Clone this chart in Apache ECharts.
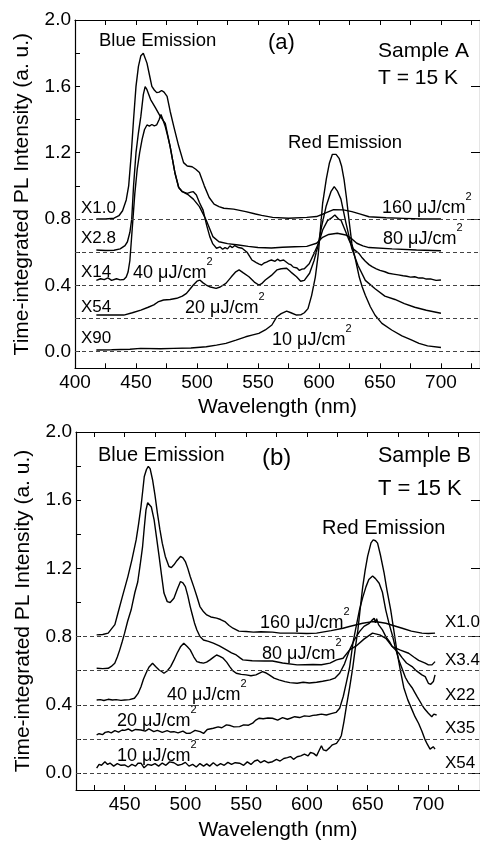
<!DOCTYPE html>
<html>
<head>
<meta charset="utf-8">
<script src="https://cdn.jsdelivr.net/npm/echarts@6/dist/echarts.min.js"></script>
<style>
html,body{margin:0;padding:0;background:#fff;overflow:hidden;}
#chart{width:480px;height:843px;}
</style>
</head>
<body>
<div id="chart"></div>
<script>
// ---------- Panel (a): Sample A, [wavelength nm, intensity] ----------
const a160 = [[417.5,0.80],[425,0.80],[432,0.805],[436,0.82],[439,0.85],[442,0.915],[444,1.0],[446,1.18],[448,1.40],[450,1.6],[452,1.72],[454,1.785],[456,1.80],[457.5,1.79],[459,1.74],[461,1.67],[463,1.60],[465,1.578],[467,1.562],[469,1.565],[471,1.575],[473,1.565],[475.5,1.54],[478,1.45],[481,1.357],[485,1.24],[489,1.14],[492,1.12],[496,1.115],[499,1.10],[502,1.08],[506,1.0],[510,0.93],[514,0.89],[518,0.875],[522,0.865],[530,0.86],[540,0.845],[548,0.83],[553,0.822],[562,0.81],[575,0.805],[590,0.81],[598,0.815],[605,0.835],[612,0.857],[620,0.855],[627,0.845],[634,0.83],[641,0.814],[655,0.808],[670,0.804],[685,0.80],[700,0.80]];
const a80 = [[417.5,0.613],[425,0.61],[432,0.612],[437,0.62],[441,0.64],[443,0.663],[445,0.72],[446.5,0.80],[448,1.0],[450,1.2],[452,1.32],[454,1.42],[456,1.55],[457.5,1.598],[459,1.58],[462,1.52],[466,1.47],[470,1.417],[474,1.377],[478,1.236],[482,1.076],[485,0.99],[488,0.965],[493,0.945],[497,0.92],[502,0.875],[507.5,0.794],[513,0.694],[518,0.663],[525,0.652],[534,0.643],[542,0.635],[550,0.628],[561,0.625],[570,0.63],[580,0.633],[590,0.635],[598,0.654],[603,0.69],[608,0.707],[615,0.714],[622,0.704],[627,0.68],[631,0.654],[636,0.638],[641,0.628],[660,0.62],[680,0.613],[700,0.609]];
const a40 = [[417.5,0.43],[421,0.44],[424,0.435],[427,0.445],[430,0.43],[434,0.44],[437,0.433],[440,0.435],[442,0.45],[443.5,0.48],[445,0.55],[447,0.75],[449,0.95],[451,1.1],[453,1.2],[455,1.28],[457,1.34],[459,1.367],[461,1.36],[463,1.37],[465,1.362],[467,1.368],[469,1.40],[470.5,1.43],[472,1.40],[474,1.357],[476,1.30],[478,1.236],[482,1.076],[485,0.99],[488,0.965],[492,0.955],[495,0.962],[497,0.965],[499.5,0.945],[502,0.90],[505,0.854],[508,0.76],[510.5,0.694],[513,0.65],[516,0.624],[519,0.632],[521,0.618],[523,0.628],[525,0.62],[527,0.638],[529,0.628],[531,0.64],[534,0.628],[537,0.624],[541,0.60],[545,0.553],[547,0.545],[549,0.535],[551,0.528],[553,0.523],[555,0.535],[557,0.54],[559,0.548],[561,0.553],[564,0.545],[566,0.558],[568,0.548],[571,0.553],[575,0.53],[577,0.525],[579,0.51],[582,0.505],[584,0.49],[586,0.498],[588,0.50],[592,0.53],[596,0.593],[600,0.66],[603,0.734],[607,0.79],[610,0.805],[613,0.824],[616,0.80],[618,0.794],[621,0.74],[624.6,0.674],[628,0.62],[632.7,0.593],[635,0.57],[638,0.545],[641,0.525],[643.5,0.513],[647,0.5],[650,0.49],[654,0.482],[657,0.473],[661,0.468],[665,0.463],[669,0.458],[672,0.455],[675,0.45],[678.5,0.452],[682,0.444],[685,0.445],[688,0.438],[692,0.438],[696,0.43],[700,0.432]];
const a20 = [[417.5,0.221],[430,0.222],[440,0.221],[447,0.235],[454,0.251],[460,0.268],[464.6,0.282],[468,0.30],[472.6,0.312],[478,0.315],[483.4,0.322],[488,0.335],[491.4,0.352],[494,0.375],[497,0.402],[500,0.425],[502.3,0.432],[505,0.415],[507.6,0.402],[511,0.39],[515.7,0.382],[519,0.39],[523.7,0.412],[528,0.45],[531.8,0.482],[534.5,0.493],[538,0.475],[542.6,0.452],[547,0.42],[550.7,0.402],[553,0.41],[556,0.432],[561,0.46],[565.5,0.493],[569,0.50],[573.5,0.503],[577,0.48],[581.6,0.452],[585,0.425],[588,0.43],[592.3,0.473],[596,0.55],[599,0.633],[602,0.75],[605.8,0.875],[609.8,0.965],[612.5,0.995],[615,0.97],[618,0.92],[622,0.78],[627,0.62],[632,0.52],[638,0.43],[646,0.38],[654,0.335],[662.3,0.315],[670,0.29],[678.5,0.268],[688,0.25],[700,0.232]];
const a10 = [[417.5,0.01],[430,0.012],[445,0.015],[453.8,0.02],[470,0.018],[480.7,0.02],[495,0.022],[507.6,0.03],[516,0.04],[523.7,0.05],[532,0.07],[539.9,0.09],[545,0.1],[550.7,0.111],[556,0.131],[561.4,0.161],[565.5,0.211],[569,0.23],[573.5,0.245],[577,0.235],[581.6,0.221],[585,0.222],[588,0.235],[591,0.26],[594,0.34],[597,0.45],[599.5,0.593],[603,0.895],[606,1.04],[608.5,1.136],[611,1.19],[612.5,1.197],[614,1.19],[616.5,1.166],[618.5,1.12],[620.6,1.036],[622.5,0.93],[624.6,0.794],[627,0.65],[630,0.553],[633,0.45],[635.4,0.392],[638,0.34],[642.1,0.271],[646,0.22],[651.6,0.171],[659.6,0.131],[668,0.095],[675.7,0.071],[682,0.05],[689,0.035],[700,0.025]];

// ---------- Panel (b): Sample B ----------
const b160 = [[427,0.81],[432,0.812],[436.5,0.82],[439.2,0.845],[442,0.87],[444.6,0.94],[448,1.03],[452.7,1.152],[456,1.25],[459.5,1.367],[461.5,1.46],[463.5,1.563],[465,1.66],[466.2,1.739],[468,1.78],[469.5,1.798],[471,1.785],[473,1.72],[475,1.63],[477,1.524],[479,1.43],[481,1.348],[483.5,1.27],[486.5,1.211],[488.5,1.205],[490.6,1.221],[493,1.245],[496,1.27],[498,1.262],[500,1.24],[502,1.2],[504,1.152],[507,1.09],[509.5,1.035],[512,0.976],[515,0.945],[517.6,0.927],[521,0.915],[525.7,0.908],[529,0.9],[532.5,0.888],[536,0.865],[539.2,0.849],[544,0.832],[550,0.83],[556,0.826],[562,0.828],[571.7,0.826],[578,0.82],[590,0.82],[600,0.818],[608,0.82],[620,0.835],[629.8,0.849],[635,0.859],[640,0.868],[646,0.878],[654,0.888],[660,0.884],[665,0.878],[671,0.865],[678.5,0.849],[686,0.832],[694.7,0.82],[700,0.818],[705.5,0.82]];
const b80 = [[427,0.614],[432,0.612],[436.5,0.614],[439,0.625],[441.9,0.644],[444,0.68],[446,0.722],[448,0.77],[450,0.82],[452.5,0.89],[455.4,0.957],[456.7,1.0],[458.5,1.06],[460.8,1.12],[462.8,1.22],[464.8,1.328],[466.2,1.44],[467.6,1.543],[469,1.585],[470.3,1.592],[472,1.56],[474.3,1.485],[476.3,1.38],[478.4,1.27],[480.4,1.16],[482.4,1.055],[485.1,1.005],[487.5,1.0],[490.6,1.025],[493.5,1.08],[496,1.123],[498,1.115],[500,1.093],[502,1.04],[504,0.976],[505.4,0.937],[507.5,0.88],[509.5,0.839],[512,0.8],[514.9,0.78],[519,0.772],[523,0.761],[528,0.745],[533.8,0.722],[538,0.705],[541.9,0.692],[545,0.675],[547.3,0.663],[555,0.658],[565,0.657],[571.7,0.657],[580,0.645],[592,0.634],[605,0.636],[612,0.635],[619,0.644],[624.4,0.663],[629.8,0.673],[635.2,0.722],[640.6,0.745],[647,0.785],[654,0.82],[660,0.81],[665,0.79],[670.3,0.741],[677,0.72],[683.8,0.702],[688,0.68],[692,0.66],[697.4,0.644],[700,0.634],[703,0.634],[705.5,0.653]];
const b40 = [[427,0.428],[430,0.43],[433,0.425],[436.5,0.432],[440,0.428],[443,0.43],[447,0.426],[450,0.428],[454,0.43],[458.1,0.438],[461,0.465],[463.5,0.506],[465.5,0.55],[467.6,0.585],[470,0.62],[473,0.644],[475.5,0.625],[478.4,0.604],[480.5,0.595],[482.4,0.585],[485,0.598],[487.9,0.624],[490.5,0.66],[493.2,0.702],[496,0.74],[498.7,0.761],[501.5,0.742],[504,0.722],[507,0.68],[509.5,0.653],[512,0.648],[514.9,0.644],[517.5,0.65],[520.3,0.663],[523,0.678],[525.7,0.692],[528,0.685],[531.1,0.673],[534,0.65],[536.5,0.624],[539,0.6],[541.9,0.585],[546,0.578],[550,0.575],[554,0.57],[558.1,0.575],[561,0.585],[563.5,0.594],[566,0.588],[569,0.575],[573,0.556],[577,0.546],[582,0.536],[586,0.53],[592,0.526],[597,0.532],[602,0.528],[608,0.532],[613,0.538],[619,0.546],[623,0.556],[627,0.585],[631,0.64],[635.2,0.722],[639,0.78],[643.3,0.829],[647,0.86],[651.4,0.878],[653.5,0.895],[655.4,0.908],[656.5,0.88],[657.4,0.905],[659,0.87],[662.2,0.839],[665,0.8],[668,0.77],[670.3,0.741],[675.7,0.702],[678.5,0.675],[682,0.645],[686.6,0.624],[690,0.6],[694.7,0.575],[697.4,0.565],[700,0.526],[702,0.52],[704.1,0.536],[705.5,0.575]];
const b20 = [[427,0.223],[429,0.23],[432,0.225],[434,0.238],[436.5,0.242],[439,0.235],[442,0.248],[445,0.24],[448,0.252],[450,0.25],[453,0.258],[456,0.245],[459,0.255],[463.5,0.252],[467,0.245],[470,0.258],[474,0.242],[477,0.25],[481,0.238],[485,0.248],[488,0.24],[490.6,0.242],[494,0.235],[498,0.245],[501,0.232],[504,0.233],[508,0.25],[512.2,0.242],[515,0.232],[518,0.255],[523,0.262],[527,0.27],[530,0.265],[533.8,0.282],[537,0.278],[540,0.27],[544.6,0.272],[548,0.282],[552,0.28],[555.4,0.292],[558,0.31],[560.8,0.321],[564,0.318],[568,0.322],[571.7,0.321],[576,0.31],[580,0.325],[584,0.315],[586.5,0.321],[590,0.33],[594,0.325],[598,0.335],[602,0.332],[605,0.338],[608,0.34],[612,0.345],[616,0.34],[620,0.348],[624,0.355],[627,0.38],[630,0.45],[632.5,0.53],[635.2,0.62],[637.9,0.761],[640.6,0.86],[643.3,0.957],[646,1.03],[648.7,1.093],[651,1.135],[654.1,1.155],[656.5,1.14],[659.5,1.113],[662.2,1.06],[664.9,0.957],[667.5,0.88],[670.3,0.81],[673,0.73],[675.7,0.663],[678.5,0.61],[681.1,0.56],[683.5,0.53],[686.6,0.5],[689,0.47],[691,0.445],[694.7,0.4],[697,0.375],[700,0.35],[702.8,0.33],[704.5,0.345],[706.8,0.34]];
const b10 = [[427,0.028],[429,0.05],[431,0.045],[433.8,0.066],[436,0.05],[438,0.058],[441,0.04],[444,0.055],[447,0.045],[450,0.047],[453,0.035],[456,0.05],[459,0.04],[461,0.057],[463.5,0.057],[466,0.03],[469,0.05],[472,0.045],[475,0.055],[478,0.04],[481,0.058],[484,0.045],[487,0.065],[490.6,0.06],[494,0.045],[497,0.05],[500,0.062],[503,0.04],[506,0.05],[509,0.035],[512,0.055],[515,0.04],[517.6,0.053],[520,0.04],[523,0.06],[526,0.042],[529,0.055],[532,0.045],[535,0.062],[538,0.05],[541,0.06],[544.6,0.057],[548,0.045],[551,0.065],[554,0.05],[557,0.07],[559.5,0.076],[562,0.06],[565,0.072],[568,0.06],[571.7,0.066],[575,0.08],[578,0.07],[581,0.085],[584,0.09],[586.5,0.096],[589,0.08],[592,0.095],[595,0.1],[598,0.11],[601,0.1],[603,0.12],[605.5,0.115],[608,0.1],[610,0.13],[612,0.16],[613.6,0.135],[616,0.13],[619,0.15],[621,0.165],[624.4,0.174],[627,0.2],[628.4,0.22],[630.5,0.3],[632.5,0.389],[635.2,0.5],[637.9,0.624],[640,0.74],[642,0.839],[644,0.97],[646,1.093],[648,1.19],[650,1.27],[652.8,1.35],[654.6,1.367],[656.5,1.362],[658.2,1.348],[660.5,1.28],[663.6,1.172],[666,1.07],[669,0.957],[671.5,0.84],[674.4,0.702],[677,0.6],[679.8,0.5],[683,0.43],[686.6,0.37],[689,0.33],[692,0.29],[694.7,0.245],[697,0.2],[699,0.17],[701.4,0.14],[703,0.145],[704,0.154],[705.5,0.14]];

// ---------- reference baselines and ticks ----------
const baselines = [0.0, 0.2, 0.4, 0.6, 0.8];
const yTicks = [0.0, 0.2, 0.4, 0.6, 0.8, 1.0, 1.2, 1.4, 1.6, 1.8, 2.0];
const yLabels = [0.0, 0.4, 0.8, 1.2, 1.6, 2.0];
const xTicksA = [400,425,450,475,500,525,550,575,600,625,650,675,700,725];
const xLabelsA = [400, 450, 500, 550, 600, 650, 700];
const xTicksB = [425,450,475,500,525,550,575,600,625,650,675,700,725];
const xLabelsB = [450, 500, 550, 600, 650, 700];

const FONT = '"Liberation Sans", Arial, Helvetica, sans-serif';
const chart = echarts.init(document.getElementById('chart'), null, {renderer: 'canvas'});

const axisLine = {show: true, onZero: false, lineStyle: {color: '#000', width: 1.2}};

function xAx(gi, min, max, ticks, labels, pos, showLab) {
  return {
    type: 'value', gridIndex: gi, position: pos, min: min, max: max,
    axisLine: axisLine,
    axisTick: {show: true, inside: true, length: 5, customValues: ticks, lineStyle: {color: '#000', width: 1}},
    axisLabel: {show: showLab, customValues: labels, color: '#000', fontSize: 19, fontFamily: FONT, margin: 5},
    splitLine: {show: false}
  };
}
function yAx(gi, pos, showLab) {
  return {
    type: 'value', gridIndex: gi, position: pos, min: -0.1, max: 2.0,
    axisLine: axisLine,
    axisTick: {show: true, inside: true, length: pos === 'left' ? 5 : 9, customValues: pos === 'left' ? yTicks : yLabels, lineStyle: {color: '#000', width: 1}},
    axisLabel: {show: showLab, customValues: yLabels, color: '#000', fontSize: 19, fontFamily: FONT, margin: 4,
      formatter: v => v.toFixed(1)},
    splitLine: {show: false},
    name: showLab ? 'Time-integrated PL Intensity (a. u.)' : '',
    nameLocation: 'middle', nameGap: 42,
    nameTextStyle: {color: '#000', fontSize: 21, fontFamily: FONT}
  };
}

const xa = xAx(0, 400, 732, xTicksA, xLabelsA, 'bottom', true);
xa.name = 'Wavelength (nm)'; xa.nameLocation = 'middle'; xa.nameGap = 28;
xa.nameTextStyle = {color: '#000', fontSize: 21, fontFamily: FONT};
const xb = xAx(1, 410, 742.5, xTicksB, xLabelsB, 'bottom', true);
xb.name = 'Wavelength (nm)'; xb.nameLocation = 'middle'; xb.nameGap = 30;
xb.nameTextStyle = {color: '#000', fontSize: 21, fontFamily: FONT};

function line(data, xi, yi, withBase) {
  const s = {
    type: 'line', data: data, xAxisIndex: xi, yAxisIndex: yi,
    showSymbol: false, symbol: 'none', smooth: false, animation: false,
    lineStyle: {color: '#000', width: 1.4}, z: 3
  };
  if (withBase) {
    s.markLine = {
      silent: true, symbol: 'none', animation: false,
      label: {show: false},
      lineStyle: {color: '#444', type: [4, 3], width: 1},
      data: baselines.map(v => ({yAxis: v}))
    };
  }
  return s;
}

function sup(x, y, num, size) {
  return {
    type: 'text', x: x, y: y, z: 10,
    style: {
      text: '{a|' + num + ' \u03bcJ/cm}{s|2}', fill: '#000', verticalAlign: 'middle', align: 'left',
      rich: {
        a: {fontSize: size, fontFamily: FONT, fill: '#000', lineHeight: 26, verticalAlign: 'bottom'},
        s: {fontSize: 11, fontFamily: FONT, fill: '#000', lineHeight: 12, verticalAlign: 'top'}
      }
    }
  };
}
function txt(x, y, t, size, align) {
  return {type: 'text', x: x, y: y, z: 10,
    style: {text: t, fill: '#000', font: size + 'px ' + FONT, verticalAlign: 'middle', align: align || 'left'}};
}

const option = {
  backgroundColor: '#fff',
  animation: false,
  grid: [
    {left: 75, top: 20, width: 411, height: 348.3},
    {left: 76, top: 432, width: 410, height: 358}
  ],
  xAxis: [
    xa,
    xAx(0, 400, 732, xTicksA, xLabelsA, 'top', false),
    xb,
    xAx(1, 410, 742.5, xTicksB, xLabelsB, 'top', false)
  ],
  yAxis: [yAx(0, 'left', true), yAx(0, 'right', false), yAx(1, 'left', true), yAx(1, 'right', false)],
  series: [
    line(a160, 0, 0, true), line(a80, 0, 0), line(a40, 0, 0), line(a20, 0, 0), line(a10, 0, 0),
    line(b160, 2, 2, true), line(b80, 2, 2), line(b40, 2, 2), line(b20, 2, 2), line(b10, 2, 2)
  ],
  graphic: [
    txt(99, 41, 'Blue Emission', 18.5),
    txt(268, 43, '(a)', 22),
    txt(378, 51, 'Sample A', 21),
    txt(378, 78, 'T = 15 K', 21),
    txt(288, 143, 'Red Emission', 18.5),
    txt(81, 208, 'X1.0', 17),
    txt(81, 238, 'X2.8', 17),
    txt(81, 272, 'X14', 17),
    txt(81, 307, 'X54', 17),
    txt(81, 338, 'X90', 17),
    sup(382, 204, '160', 18),
    sup(383, 235, '80', 18),
    sup(133, 269, '40', 18),
    sup(185, 304, '20', 18),
    sup(272, 336, '10', 18),

    txt(98, 455, 'Blue Emission', 20),
    txt(262, 458, '(b)', 24),
    txt(378, 456, 'Sample B', 21.5),
    txt(378, 489, 'T = 15 K', 22),
    txt(322, 528, 'Red Emission', 20),
    sup(260, 619, '160', 18),
    sup(262, 650, '80', 18),
    sup(167, 691, '40', 18),
    sup(117, 717, '20', 18),
    sup(117, 752, '10', 18),
    txt(445, 622, 'X1.0', 17),
    txt(445, 660, 'X3.4', 17),
    txt(445, 695, 'X22', 17),
    txt(445, 728, 'X35', 17),
    txt(445, 763, 'X54', 17)
  ]
};
chart.setOption(option);
</script>
</body>
</html>
